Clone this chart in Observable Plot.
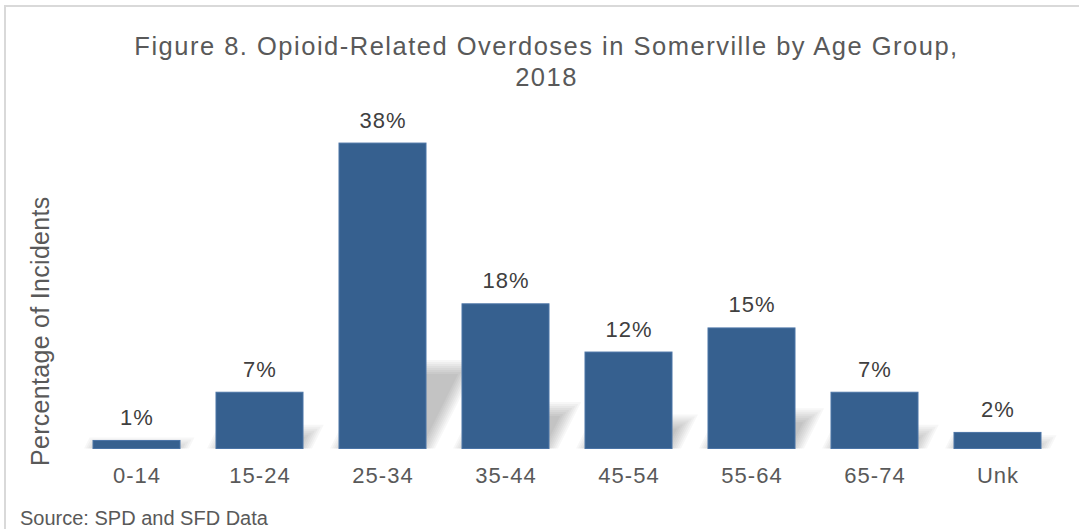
<!DOCTYPE html>
<html><head><meta charset="utf-8">
<script src="https://cdn.jsdelivr.net/npm/d3@7"></script>
<script src="https://cdn.jsdelivr.net/npm/@observablehq/plot@0.6"></script>
<style>
html,body{margin:0;padding:0;width:1079px;height:529px;overflow:hidden;background:#fff;font-family:"Liberation Sans",Arial,sans-serif;}
#frame{position:absolute;left:4px;top:5px;width:1200px;height:700px;border:2px solid #d9d9d9;box-sizing:border-box}
#title{position:absolute;left:7px;top:31px;width:1079px;text-align:center;font-size:25.5px;letter-spacing:1.5px;line-height:31px;color:#595959;white-space:nowrap}
#chart{position:absolute;left:0;top:95px}
#chart svg text{letter-spacing:1px}
#source{position:absolute;left:20px;top:508px;font-size:20px;line-height:20px;color:#595959;white-space:nowrap}
</style></head>
<body>
<div id="frame"></div>
<div id="title">Figure 8. Opioid-Related Overdoses in Somerville by Age Group,<br>2018</div>
<div id="chart"></div>
<div id="source">Source: SPD and SFD Data</div>
<script>
const ageGroups = ["0-14", "15-24", "25-34", "35-44", "45-54", "55-64", "65-74", "Unk"];
const percentages = [1, 7, 38, 18, 12, 15, 7, 2];
const valueLabels = ["1%", "7%", "38%", "18%", "12%", "15%", "7%", "2%"];
const yLabel = "Percentage of Incidents";

const data = ageGroups.map((g, i) => ({group: g, pct: percentages[i], label: valueLabels[i]}));

// soft perspective shadow built from several translucent layers
const shadowSpread = [-5, -3, -1, 1, 3, 5, 7, 9];
const shadowLayers = shadowSpread.map(() =>
  Plot.barY(data, {x: "group", y: "pct", fill: "#000", fillOpacity: 0.03})
);

const font = '"Liberation Sans", Arial, sans-serif';
const plot = Plot.plot({
  width: 1079,
  height: 400,
  marginLeft: 74,
  marginRight: 18,
  marginTop: 32,
  marginBottom: 46.5,
  style: {fontFamily: font, background: "transparent", overflow: "visible"},
  x: {domain: ageGroups, paddingInner: 0.29, paddingOuter: 0.145, label: null},
  y: {domain: [0, 40], axis: null},
  marks: [
    ...shadowLayers,
    Plot.barY(data, {x: "group", y: "pct", fill: "#36608f", stroke: "#4b74a6", strokeWidth: 1}),
    Plot.text(data, {x: "group", y: "pct", text: "label", lineAnchor: "bottom", dy: -16, fontSize: 22, fill: "#404040"}),
    Plot.axisX({tickSize: 0, tickPadding: 18, fontSize: 22, color: "#595959", label: null}),
    Plot.text([yLabel], {frameAnchor: "left", textAnchor: "middle", rotate: -90, fontSize: 25, fill: "#595959", dx: -34, dy: 43})
  ]
});

// flatten and skew each shadow layer toward the upper right, widening it per layer
const barGroups = plot.querySelectorAll('g[aria-label="bar"]');
const k = 0.26, s = 0.5;
shadowSpread.forEach((e, j) => {
  barGroups[j].querySelectorAll("rect").forEach(r => {
    const x = +r.getAttribute("x"), w = +r.getAttribute("width");
    const y = +r.getAttribute("y"), h = +r.getAttribute("height");
    const y0 = y + h;
    const hs = Math.max(0, k * h + e);
    r.setAttribute("x", x - e);
    r.setAttribute("width", Math.max(0, w + 2 * e));
    r.setAttribute("y", y0 - hs);
    r.setAttribute("height", hs);
    r.setAttribute("transform", `translate(0,${y0}) skewX(${-Math.atan(s) * 180 / Math.PI}) translate(0,${-y0})`);
  });
});
const textGroups = plot.querySelectorAll('g[aria-label="text"]');
textGroups[textGroups.length - 1].querySelectorAll("text").forEach(t => t.style.letterSpacing = "0.3px");

document.getElementById("chart").appendChild(plot);
</script>
</body></html>
